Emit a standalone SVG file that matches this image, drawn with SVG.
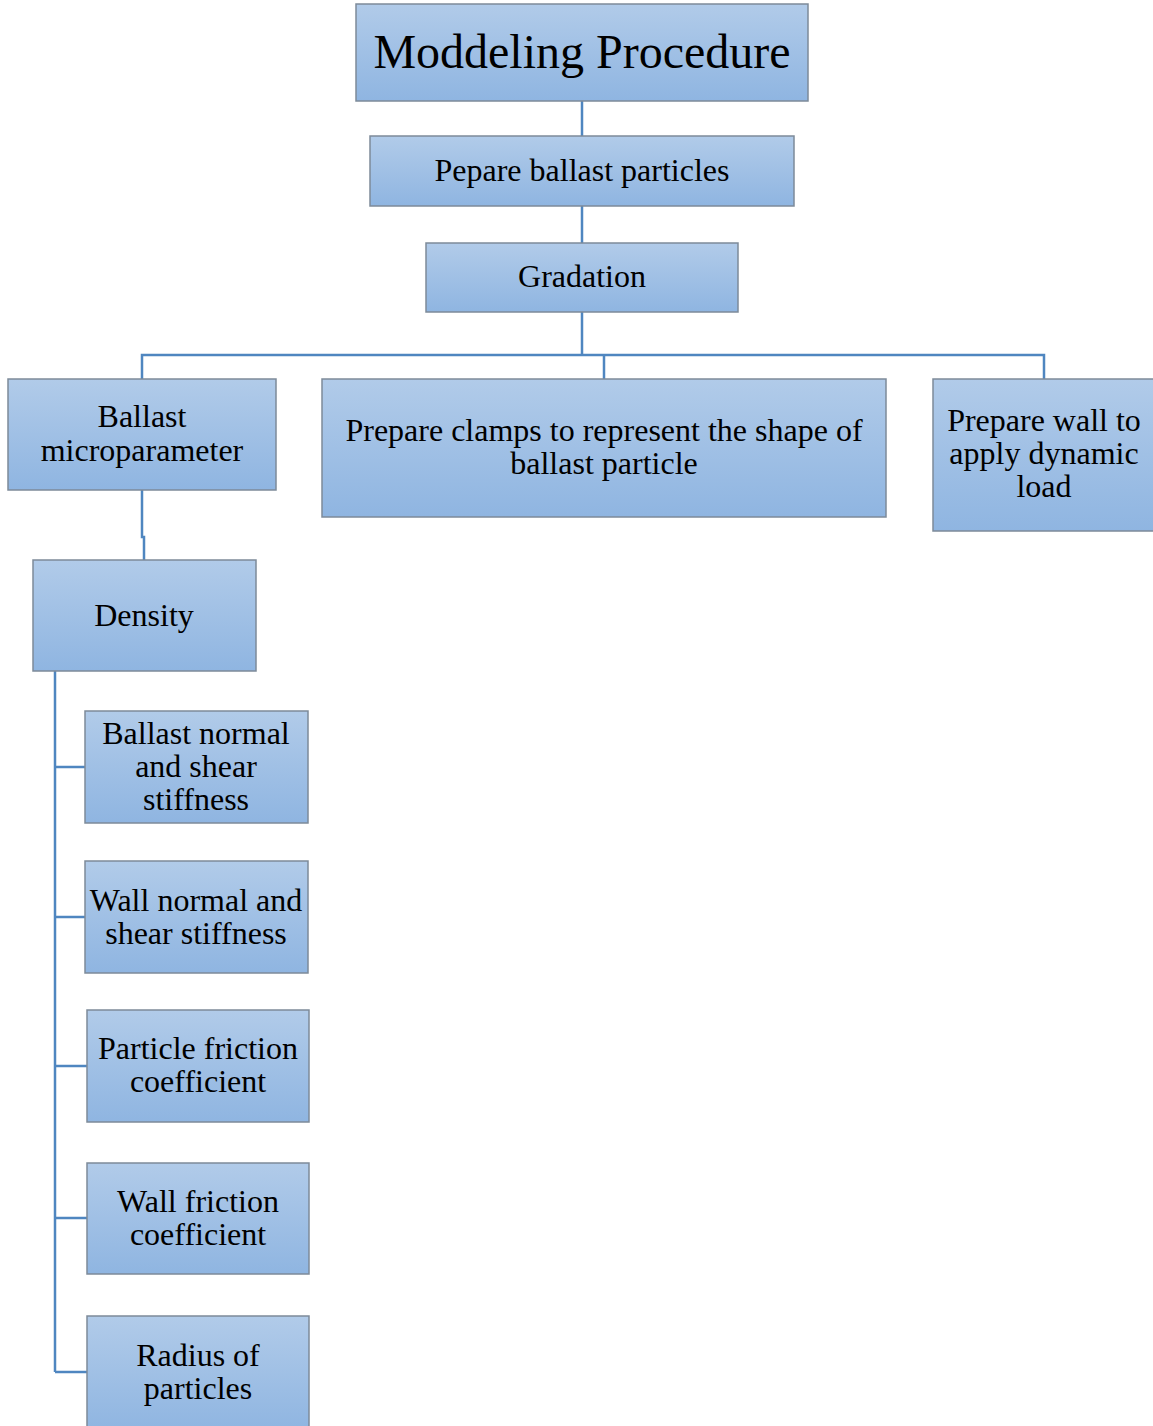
<svg xmlns="http://www.w3.org/2000/svg" width="1153" height="1426" viewBox="0 0 1153 1426">
<defs>
<linearGradient id="g" x1="0" y1="0" x2="0" y2="1">
<stop offset="0" stop-color="#b1cbe9"/>
<stop offset="1" stop-color="#8fb5e1"/>
</linearGradient>
<style>
.box{fill:url(#g);stroke:#7d8a99;stroke-width:1.5}
.t{font-family:"Liberation Serif","Times New Roman",serif;font-size:32px;fill:#000;text-anchor:middle}
.title{font-size:48px}
.c{fill:none;stroke:#4f86c0;stroke-width:2.5}
</style>
</defs>
<rect width="1153" height="1426" fill="#fff"/>
<g id="connectors">
<path class="c" d="M582,101V136"/>
<path class="c" d="M582,206V243"/>
<path class="c" d="M582,312V355"/>
<path class="c" d="M142,379V355H1044V379"/>
<path class="c" d="M604,355V379"/>
<path class="c" d="M142,490V537H144V560"/>
<path class="c" d="M55,671V1372"/>
<path class="c" d="M55,767H85"/>
<path class="c" d="M55,917H85"/>
<path class="c" d="M55,1066H87"/>
<path class="c" d="M55,1218H87"/>
<path class="c" d="M55,1372H87"/>
</g>
<g id="n-title"><rect class="box" x="356" y="4" width="452" height="97"/><text class="t title" x="582" y="68">Moddeling Procedure</text></g>
<g id="n-pepare"><rect class="box" x="370" y="136" width="424" height="70"/><text class="t" x="582" y="181">Pepare ballast particles</text></g>
<g id="n-gradation"><rect class="box" x="426" y="243" width="312" height="69"/><text class="t" x="582" y="287">Gradation</text></g>
<g id="n-ballast"><rect class="box" x="8" y="379" width="268" height="111"/><text class="t" x="142" y="427">Ballast</text><text class="t" x="142" y="461">microparameter</text></g>
<g id="n-clamps"><rect class="box" x="322" y="379" width="564" height="138"/><text class="t" x="604" y="441">Prepare clamps to represent the shape of</text><text class="t" x="604" y="474">ballast particle</text></g>
<g id="n-wall"><rect class="box" x="933" y="379" width="225" height="152"/><text class="t" x="1044" y="431">Prepare wall to</text><text class="t" x="1044" y="464">apply dynamic</text><text class="t" x="1044" y="497">load</text></g>
<g id="n-density"><rect class="box" x="33" y="560" width="223" height="111"/><text class="t" x="144" y="626">Density</text></g>
<g id="n-bnss"><rect class="box" x="85" y="711" width="223" height="112"/><text class="t" x="196" y="744">Ballast normal</text><text class="t" x="196" y="777">and shear</text><text class="t" x="196" y="810">stiffness</text></g>
<g id="n-wnss"><rect class="box" x="85" y="861" width="223" height="112"/><text class="t" x="196" y="911">Wall normal and</text><text class="t" x="196" y="944">shear stiffness</text></g>
<g id="n-pfc"><rect class="box" x="87" y="1010" width="222" height="112"/><text class="t" x="198" y="1059">Particle friction</text><text class="t" x="198" y="1092">coefficient</text></g>
<g id="n-wfc"><rect class="box" x="87" y="1163" width="222" height="111"/><text class="t" x="198" y="1212">Wall friction</text><text class="t" x="198" y="1245">coefficient</text></g>
<g id="n-radius"><rect class="box" x="87" y="1316" width="222" height="115"/><text class="t" x="198" y="1366">Radius of</text><text class="t" x="198" y="1399">particles</text></g>
</svg>
